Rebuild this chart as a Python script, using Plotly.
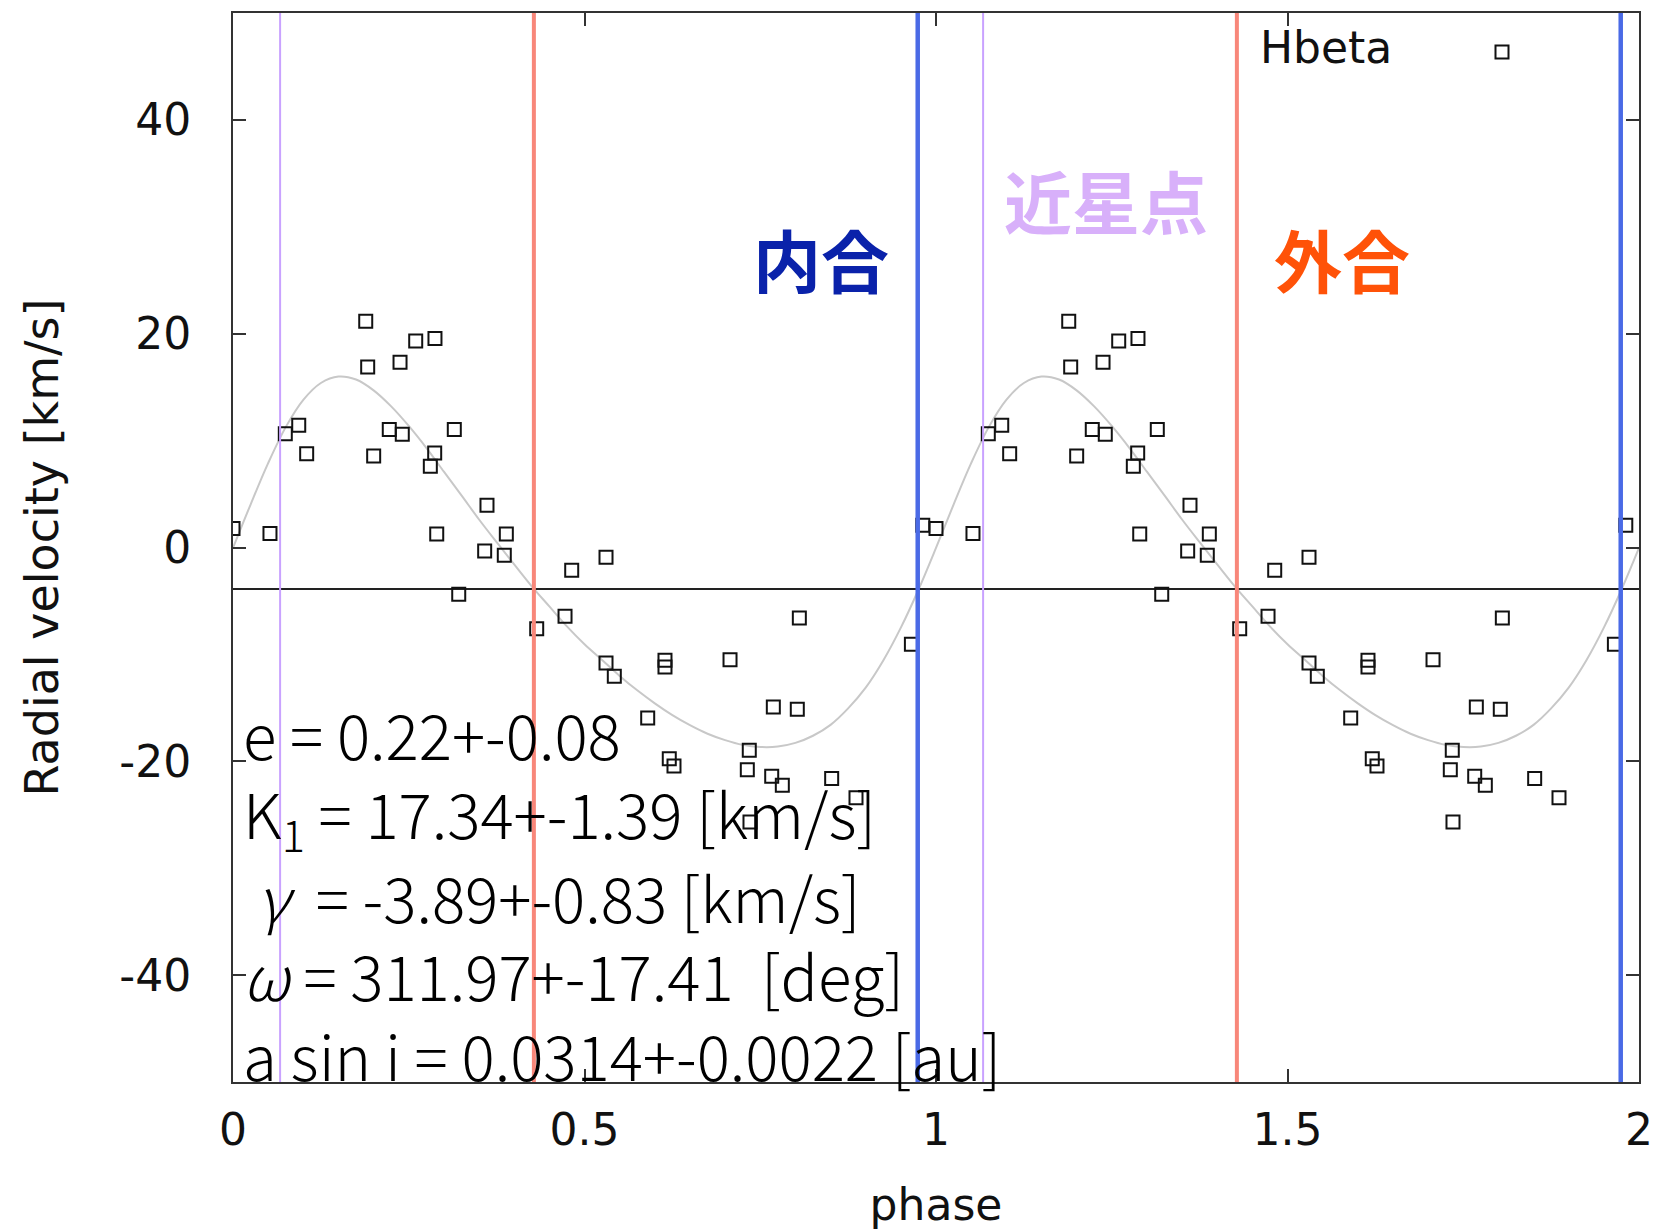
import plotly.graph_objects as go

# ---------------- data (one orbital period, Hbeta) ----------------
obs_phase = [0.000, 0.0526, 0.0744, 0.0935, 0.1048, 0.1888, 0.1916, 0.2001, 0.2223, 0.2376,
             0.2408, 0.2599, 0.2873, 0.2869, 0.2807, 0.2898, 0.3148, 0.3211, 0.3613, 0.3580,
             0.3888, 0.3859, 0.4320, 0.4723, 0.4818, 0.5306, 0.5306, 0.5424, 0.6145, 0.6145,
             0.7070, 0.8056, 0.7686, 0.8027, 0.5899, 0.6206, 0.6273, 0.7344, 0.7316, 0.7663,
             0.7814, 0.8516, 0.8862, 0.7354, 0.9650, 0.9812]
obs_rv = [1.77, 1.30, 10.65, 11.43, 8.78, 21.16, 16.88, 8.56, 11.03, 17.32,
          10.59, 19.32, 19.54, 8.84, 7.60, 1.26, 11.03, -4.38, 3.95, -0.33,
          1.26, -0.73, -7.59, -6.44, -2.13, -0.92, -10.80, -12.05, -10.55, -11.18,
          -10.49, -6.59, -14.92, -15.14, -15.95, -19.75, -20.44, -18.97, -20.78, -21.40,
          -22.25, -21.62, -23.40, -25.68, -9.06, 2.08]

fit_phase = [0.000, 0.025, 0.050, 0.075, 0.100, 0.125, 0.150, 0.175, 0.200, 0.225,
             0.250, 0.275, 0.300, 0.325, 0.350, 0.375, 0.400, 0.425, 0.450, 0.475,
             0.500, 0.525, 0.550, 0.575, 0.600, 0.625, 0.650, 0.675, 0.700, 0.725,
             0.750, 0.775, 0.800, 0.825, 0.850, 0.875, 0.900, 0.925, 0.950, 0.975, 1.000]
fit_rv = [-0.04, 4.02, 7.89, 11.26, 13.81, 15.39, 15.99, 15.71, 14.70, 13.20,
          11.37, 9.32, 7.09, 4.87, 2.62, 0.50, -1.58, -3.63, -5.51, -7.38,
          -9.05, -10.52, -12.01, -13.36, -14.58, -15.68, -16.62, -17.42, -18.02, -18.46,
          -18.66, -18.62, -18.28, -17.61, -16.59, -15.05, -13.11, -10.57, -7.50, -3.95, -0.04]

gamma = -3.89
periastron_phase = [0.067, 1.067]      # 近星点
superior_conj_phase = [0.428, 1.428]   # 外合
inferior_conj_phase = [0.974, 1.974]   # 内合

x_ticks = [0, 0.5, 1, 1.5, 2]
x_ticklabels = ["0", "0.5", "1", "1.5", "2"]
y_ticks = [-40, -20, 0, 20, 40]
y_ticklabels = ["-40", "-20", "0", "20", "40"]

param_lines = [
    "e = 0.22+-0.08",
    "K<sub>1</sub> = 17.34+-1.39 [km/s]",
    " <i>γ</i>  = -3.89+-0.83 [km/s]",
    "<i>ω</i> = 311.97+-17.41  [deg]",
    "a sin i = 0.0314+-0.0022 [au]",
]
series_name = "Hbeta"

# ---------------- layout geometry ----------------
W, H = 1671, 1230
PL, PR, PT, PB = 233, 1639, 13, 1082


def pxx(x):
    return (x - PL) / (PR - PL)


def pxy(y):
    return (PB - y) / (PB - PT)


GNU = "DejaVu Sans"
JP = "Noto Sans CJK JP"

fig = go.Figure()

# fitted curve, two periods
curve_x = fit_phase + [p + 1 for p in fit_phase[1:]]
curve_y = fit_rv + fit_rv[1:]
fig.add_trace(go.Scatter(x=curve_x, y=curve_y, mode="lines",
                         line=dict(color="#c8c8c8", width=2, shape="spline"),
                         showlegend=False, hoverinfo="skip"))

# systemic velocity line
fig.add_trace(go.Scatter(x=[x_ticks[0], x_ticks[-1]], y=[gamma, gamma], mode="lines",
                         line=dict(color="#222222", width=2),
                         showlegend=False, hoverinfo="skip"))

# observations, two periods
pts_x = obs_phase + [p + 1 for p in obs_phase]
pts_y = obs_rv + obs_rv
fig.add_trace(go.Scatter(x=pts_x, y=pts_y, mode="markers", name=series_name,
                         marker=dict(symbol="square-open", size=13, color="#111111",
                                     line=dict(width=2, color="#111111")),
                         showlegend=False))

shapes = []
for p in periastron_phase:
    shapes.append(dict(type="line", xref="x", yref="paper", x0=p, x1=p, y0=0, y1=1,
                       line=dict(color="#c9a2ff", width=2), layer="above"))
for p in superior_conj_phase:
    shapes.append(dict(type="line", xref="x", yref="paper", x0=p, x1=p, y0=0, y1=1,
                       line=dict(color="#f8877a", width=4), layer="above"))
for p in inferior_conj_phase:
    shapes.append(dict(type="line", xref="x", yref="paper", x0=p, x1=p, y0=0, y1=1,
                       line=dict(color="#4a6ae6", width=4.5), layer="above"))

# legend key (gnuplot style: text then sample)
kx, ky, ks = 1502, 52, 6.5
shapes.append(dict(type="rect", xref="paper", yref="paper",
                   x0=pxx(kx - ks), x1=pxx(kx + ks), y0=pxy(ky + ks), y1=pxy(ky - ks),
                   line=dict(color="#111111", width=2), fillcolor="rgba(0,0,0,0)",
                   layer="above"))

annotations = [
    dict(text=series_name, xref="paper", yref="paper", x=pxx(1394), y=pxy(48),
         xanchor="right", yanchor="middle", showarrow=False,
         font=dict(family=GNU, size=44, color="#111111")),
    dict(text="<b>内合</b>", xref="paper", yref="paper", x=pxx(821), y=pxy(258),
         xanchor="center", yanchor="middle", showarrow=False,
         font=dict(family=JP, size=68, color="#0a22aa")),
    dict(text="<b>近星点</b>", xref="paper", yref="paper", x=pxx(1106), y=pxy(199),
         xanchor="center", yanchor="middle", showarrow=False,
         font=dict(family=JP, size=68, color="#d8b0fa")),
    dict(text="<b>外合</b>", xref="paper", yref="paper", x=pxx(1342), y=pxy(258),
         xanchor="center", yanchor="middle", showarrow=False,
         font=dict(family=JP, size=68, color="#ff5208")),
]
line_y = [733, 815, 896, 974, 1054]
for txt, yy in zip(param_lines, line_y):
    annotations.append(dict(text=txt, xref="paper", yref="paper", x=pxx(241), y=pxy(yy),
                            xanchor="left", yanchor="middle", showarrow=False,
                            font=dict(family=JP, size=62, color="#000000", weight=300)))

axis_common = dict(showgrid=False, zeroline=False, showline=True, linecolor="#333333",
                   linewidth=2, mirror="ticks", ticks="inside", ticklen=13, tickwidth=1.5,
                   tickcolor="#333333", automargin=False,
                   tickfont=dict(family=GNU, size=44, color="#111111"))

fig.update_layout(
    width=W, height=H,
    margin=dict(l=PL, r=W - PR, t=PT, b=H - PB, pad=0, autoexpand=False),
    paper_bgcolor="white", plot_bgcolor="white",
    xaxis=dict(range=[0, 2], tickvals=x_ticks, ticktext=x_ticklabels,
               ticklabelstandoff=8,
               title=dict(text="phase", font=dict(family=GNU, size=44, color="#111111"),
                          standoff=40),
               **axis_common),
    yaxis=dict(range=[-50, 50], tickvals=y_ticks, ticktext=y_ticklabels,
               ticklabelstandoff=31,
               title=dict(text="Radial velocity [km/s]",
                          font=dict(family=GNU, size=46, color="#111111"), standoff=46),
               **axis_common),
    shapes=shapes,
    annotations=annotations,
    showlegend=False,
)

fig.write_html("out.html")
